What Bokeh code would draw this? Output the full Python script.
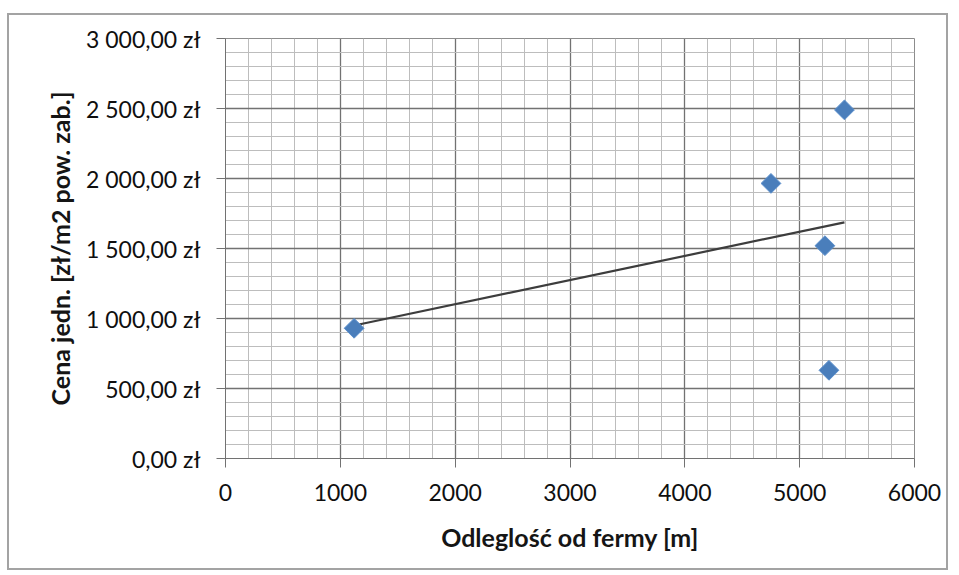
import numpy as np
from bokeh.plotting import figure
from bokeh.models import (ColumnDataSource, SingleIntervalTicker, CustomJSTickFormatter,
                          InlineStyleSheet, Range1d)
from bokeh.embed import file_html
from bokeh.resources import INLINE

# Distance from the farm [m] and unit price [zł/m2 of built-up area]
distance_m = [1120, 4750, 5390, 5220, 5255]
price_zl = [930, 1965, 2490, 1520, 630]

x_ticks = [0, 1000, 2000, 3000, 4000, 5000, 6000]
y_ticks = [0, 500, 1000, 1500, 2000, 2500, 3000]

# Linear trend line over the observed distance span
slope, intercept = np.polyfit(distance_m, price_zl, 1)
trend_x = [min(distance_m), max(distance_m)]
trend_y = [slope * x + intercept for x in trend_x]

# Thin grey frame around the whole chart area
frame_css = InlineStyleSheet(css="""
:host::after {
  content: '';
  position: absolute;
  left: 7px; top: 13px;
  width: 941px; height: 557px;
  border: 2px solid #a3a3a3;
  box-sizing: border-box;
  pointer-events: none;
}
""")

p = figure(width=959, height=575, output_backend="svg", toolbar_location=None,
           x_range=Range1d(x_ticks[0], x_ticks[-1]), y_range=Range1d(y_ticks[0], y_ticks[-1]),
           min_border_left=225, min_border_right=45,
           min_border_top=38, min_border_bottom=117,
           stylesheets=[frame_css])

p.background_fill_color = "white"
p.border_fill_color = "white"
p.outline_line_color = "#8c8c8c"
p.outline_line_width = 1

# Grid: darker major lines, lighter minor lines
for grid in (p.xgrid, p.ygrid):
    grid.grid_line_color = "#727272"
    grid.grid_line_width = 1.3
    grid.minor_grid_line_color = "#bdbdbd"
    grid.minor_grid_line_width = 1

p.xaxis.ticker = SingleIntervalTicker(interval=1000, num_minor_ticks=5)
p.yaxis.ticker = SingleIntervalTicker(interval=500, num_minor_ticks=5)

p.yaxis.formatter = CustomJSTickFormatter(code="""
    const s = tick.toFixed(2).replace('.', ',');
    const [i, d] = s.split(',');
    const g = i.replace(/\\B(?=(\\d{3})+(?!\\d))/g, ' ');
    return g + ',' + d + ' zł';
""")

for ax in (p.xaxis, p.yaxis):
    ax.axis_line_color = "#727272"
    ax.major_tick_line_color = "#727272"
    ax.major_tick_out = 9
    ax.major_tick_in = 0
    ax.minor_tick_out = 0
    ax.minor_tick_in = 0
    ax.major_label_text_font = "Lato"
    ax.major_label_text_color = "#0f0f0f"
    ax.axis_label_text_font = "Lato"
    ax.axis_label_text_font_style = "bold"
    ax.axis_label_text_color = "#151515"
    ax.axis_label_text_font_size = "25px"

p.xaxis.major_label_text_font_size = "23px"
p.yaxis.major_label_text_font_size = "23px"
p.xaxis.major_label_standoff = 16
p.yaxis.major_label_standoff = 16
p.xaxis.axis_label = "Odleglość od fermy [m]"
p.yaxis.axis_label = "Cena jedn. [zł/m2 pow. zab.]"
p.xaxis.axis_label_standoff = 18
p.yaxis.axis_label_standoff = 8

src = ColumnDataSource(dict(x=distance_m, y=price_zl))
p.line(trend_x, trend_y, line_color="#3d3d3d", line_width=2.2)
p.scatter("x", "y", source=src, marker="square", angle=np.pi / 4, size=14,
          fill_color="#4A7EBB", line_color="#5b8fcc", line_width=1)

open("out.html", "w").write(file_html(p, INLINE))
